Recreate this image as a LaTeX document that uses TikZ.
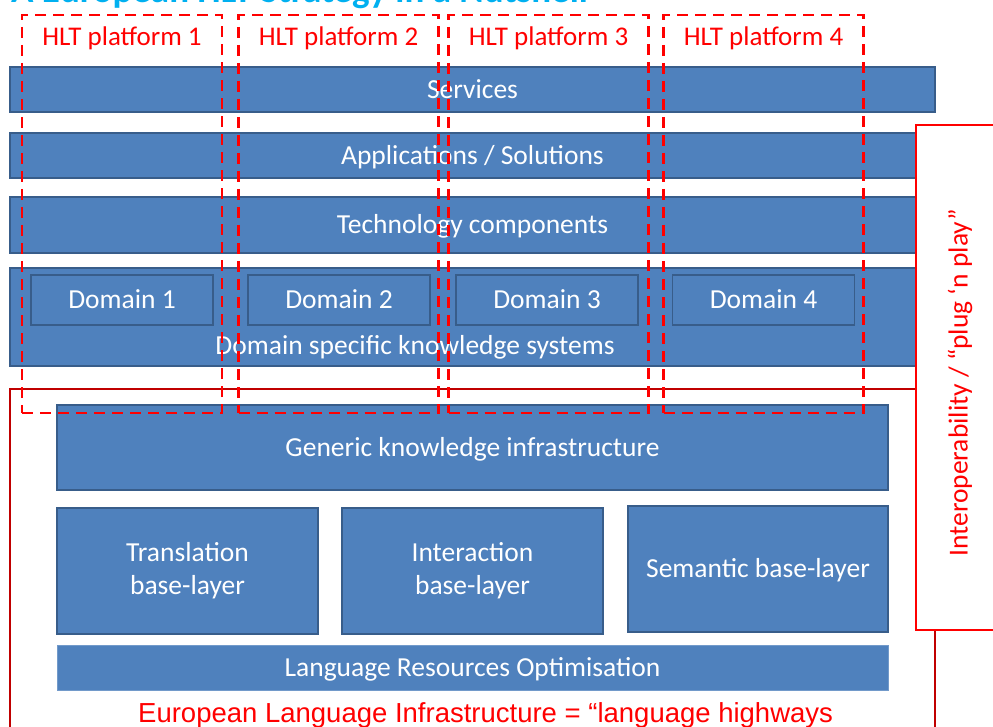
\documentclass[tikz,border=0pt]{standalone}
\usepackage{fontspec}
\setmainfont{Carlito}
\newfontfamily\arialfont{Liberation Sans}
\usetikzlibrary{positioning}
\definecolor{boxblue}{HTML}{4F81BD}
\definecolor{boxedge}{HTML}{385D8A}
\definecolor{hltred}{HTML}{FF0000}
\definecolor{framered}{HTML}{C00000}
\definecolor{titleblue}{HTML}{00B0F0}

\begin{document}
\begin{tikzpicture}[x=1pt, y=-1pt,
  layer/.style={draw=boxedge, fill=boxblue, line width=1.5pt, text=white,
    inner sep=0pt, align=center, font=\fontsize{27.5}{33}\selectfont},
  oneline/.style={text height=20.5pt, text depth=3pt},
  platform/.style={draw=hltred, dash pattern=on 11pt off 7pt, line width=2.5pt,
    inner sep=0pt, minimum width=200, minimum height=398},
  platlabel/.style={text=hltred, inner sep=0pt, font=\fontsize{27}{30}\selectfont}]

 \useasboundingbox (0,0) rectangle (993,727);

 \node[anchor=base west, inner sep=0pt, text=titleblue,
   font=\bfseries\fontsize{37}{40}\selectfont] (title) at (11,2.5)
   {A European HLT Strategy in a Nutshell};

 % language infrastructure frame
 \draw[framered, line width=2.5pt] (10,389) rectangle (935,760);

 % upper layers
 \node[layer, oneline, minimum width=925, minimum height=45] (services) at (472.5,89.5) {Services};
 \node[layer, oneline, minimum width=925, minimum height=45] (apps) at (472.5,155.5) {Applications / Solutions};
 \node[layer, oneline, minimum width=925, minimum height=56] (techcomp) at (472.5,225) {Technology components};
 \node[layer, minimum width=925, minimum height=98] (domsys) at (472.5,317) {};
 \node[oneline, text=white, inner sep=0pt, font=\fontsize{27.5}{33}\selectfont] (domsyslabel) at (415,346) {Domain specific knowledge systems};

\foreach \i/\x in {1/122, 2/339, 3/547, 4/763.5}
{
 \node[layer, oneline, minimum width=182, minimum height=50] (domain\i) at (\x,300) {Domain \i};
}

 % lower layers
 \node[layer, oneline, minimum width=831, minimum height=85] (generic) at (472.5,447.5) {Generic knowledge infrastructure};
 \node[layer, minimum width=261, minimum height=126] (transl) at (187.5,571) {Translation\\base-layer};
 \node[layer, minimum width=261, minimum height=126] (interact) at (472.5,571) {Interaction\\base-layer};
 \node[layer, oneline, minimum width=260, minimum height=126] (semantic) at (758,569) {Semantic base-layer};
 \node[layer, oneline, draw=boxblue!80!white, line width=1pt, minimum width=831, minimum height=45] (lropt) at (472.5,667.5) {Language Resources Optimisation};

 \node[anchor=base west, inner sep=0pt, text=hltred, font=\arialfont\fontsize{27.5}{30}\selectfont]
   (elilabel) at (138,722) {European Language Infrastructure = “language highways};

 % interoperability
 \node[draw=hltred, fill=white, line width=2pt, minimum width=95, minimum height=505] (interop) at (963.5,377.5) {};
 \node[rotate=90, text=hltred, inner sep=0pt, font=\fontsize{27.5}{32}\selectfont] (interoplabel) at (960,383)
   {Interoperability / “plug ‘n play”};

 % HLT platforms
\foreach \i/\x in {1/122, 2/338.5, 3/548.5, 4/763.5}
{
 \node[platform] (plat\i) at (\x,214) {};
 \node[platlabel] (plat\i label) at (\x,38) {HLT platform \i};
}
\end{tikzpicture}
\end{document}
